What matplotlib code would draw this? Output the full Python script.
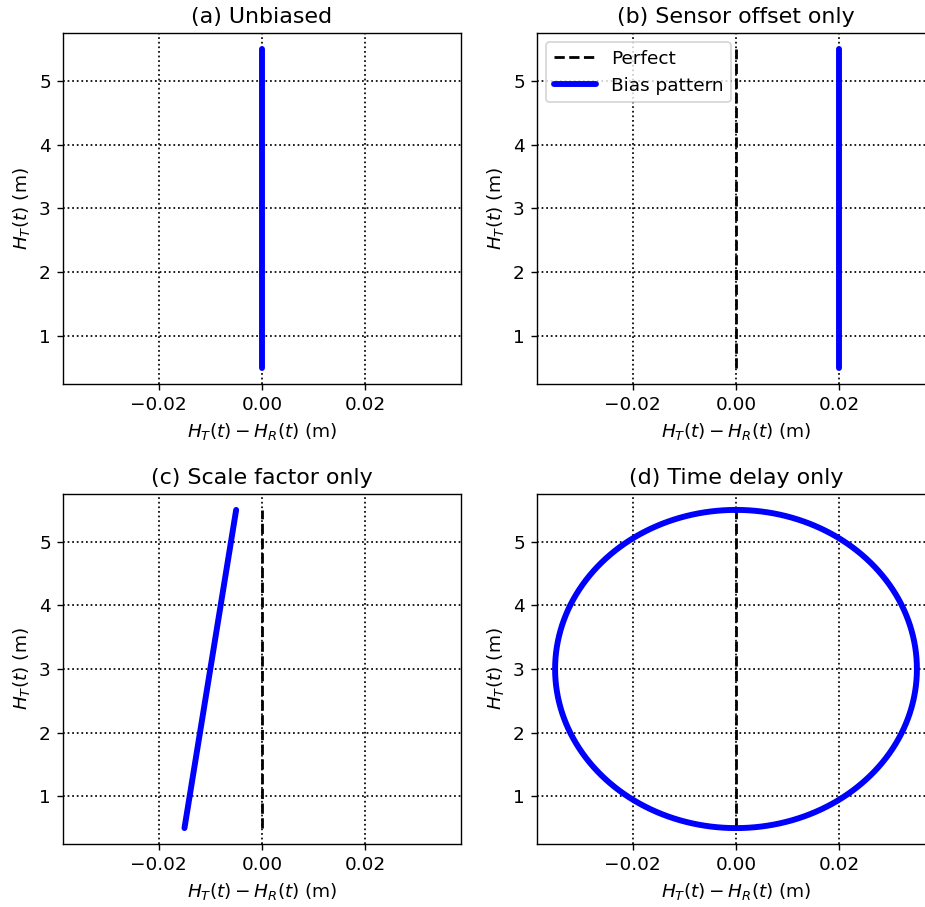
import numpy as np
import matplotlib
matplotlib.use("Agg")
import matplotlib.pyplot as plt

plt.rcParams["font.size"] = 10.65

# ---- data ----
titles = ["(a) Unbiased", "(b) Sensor offset only", "(c) Scale factor only", "(d) Time delay only"]
h_range = [0.5, 5.5]                 # H_T(t) extent (m)
perfect_diff = [0.0, 0.0]
unbiased_diff = [0.0, 0.0]
offset_diff = [0.02, 0.02]
scale_diff = [-0.015, -0.005]
tide_mean = 3.0                       # m
tide_amp = 2.5                        # m
delay_amp = 0.035                     # m, amplitude of H_T - H_R from delay
x_ticks = [-0.02, 0.0, 0.02]
y_ticks = [1, 2, 3, 4, 5]
x_lim = [-0.0385, 0.0385]
y_lim = [0.25, 5.75]

fig = plt.figure(figsize=(7.4, 7.256), dpi=125)
W, H = 925, 907
positions = [
    (63 / W, (H - 384) / H, 398 / W, 351 / H),
    (537 / W, (H - 384) / H, 398 / W, 351 / H),
    (63 / W, (H - 844) / H, 398 / W, 350 / H),
    (537 / W, (H - 844) / H, 398 / W, 350 / H),
]
axes = [fig.add_axes(p) for p in positions]

phase = np.linspace(0, 2 * np.pi, 721)
ell_y = tide_mean + tide_amp * np.cos(phase)
ell_x = delay_amp * np.sin(phase)

series = [
    (unbiased_diff, h_range),
    (offset_diff, h_range),
    (scale_diff, h_range),
    (ell_x, ell_y),
]

for i, ax in enumerate(axes):
    ax.plot(perfect_diff, h_range, "k--", lw=1.6, label="Perfect", zorder=2)
    bx, by = series[i]
    ax.plot(bx, by, color="blue", lw=3.4, solid_capstyle="round",
            label="Bias pattern", zorder=3)
    ax.set_xlim(x_lim)
    ax.set_ylim(y_lim)
    ax.set_xticks(x_ticks)
    ax.set_yticks(y_ticks)
    ax.grid(True, linestyle=":", color="black", lw=1)
    ax.set_title(titles[i])
    ax.set_xlabel(r"$H_T(t) - H_R(t)$ (m)")
    ax.set_ylabel(r"$H_T(t)$ (m)")
    if i == 1:
        ax.legend(loc="upper left", handlelength=2.3)

fig.savefig("out.png", dpi=125)
